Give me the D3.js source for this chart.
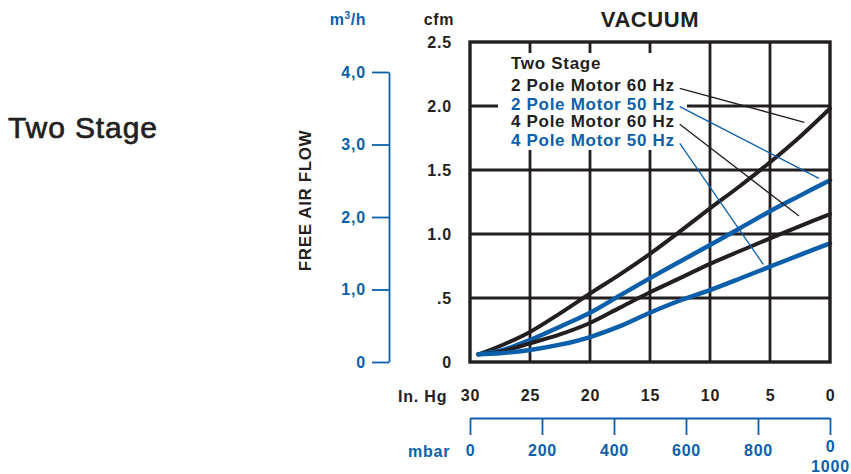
<!DOCTYPE html>
<html>
<head>
<meta charset="utf-8">
<script src="https://cdn.jsdelivr.net/npm/d3@7/dist/d3.min.js"></script>
<style>
  html, body { margin: 0; padding: 0; background: #fff; }
  svg { display: block; font-family: "Liberation Sans", Arial, Helvetica, sans-serif; }
</style>
</head>
<body>
<svg id="chart" width="851" height="474"></svg>
<script>
// ---------------- data ----------------
const vacuumInHg = [29.3, 27.5, 25, 22.5, 20, 17.5, 15, 12.5, 10, 7.5, 5, 2.5, 0];
const flow2Pole60 = [0.06, 0.125, 0.235, 0.38, 0.535, 0.685, 0.845, 1.02, 1.2, 1.375, 1.56, 1.76, 1.98];
const flow2Pole50 = [0.06, 0.088, 0.172, 0.276, 0.385, 0.52, 0.655, 0.785, 0.914, 1.045, 1.178, 1.3, 1.42];
const flow4Pole60 = [0.06, 0.08, 0.146, 0.216, 0.305, 0.425, 0.545, 0.655, 0.767, 0.867, 0.966, 1.062, 1.156];
const flow4Pole50 = [0.06, 0.068, 0.094, 0.135, 0.195, 0.28, 0.385, 0.48, 0.562, 0.652, 0.745, 0.837, 0.927];

const seriesNames = ["2 Pole Motor 60 Hz", "2 Pole Motor 50 Hz", "4 Pole Motor 60 Hz", "4 Pole Motor 50 Hz"];
// where each legend leader line touches its curve (In. Hg, cfm)
const leaderInHg = [2.14, 0.92, 2.58, 5.56];
const leaderCfm = [1.873, 1.435, 1.14, 0.763];

const inHgTicks = [30, 25, 20, 15, 10, 5, 0];
const cfmTicks = [0, 0.5, 1.0, 1.5, 2.0, 2.5];
const cfmTickLabels = ["0", ".5", "1.0", "1.5", "2.0", "2.5"];
const m3hTicks = [0, 1, 2, 3, 4];
const m3hTickLabels = ["0", "1,0", "2,0", "3,0", "4,0"];
const mbarTicks = [0, 200, 400, 600, 800, 1000];
const mbarTickLabels = ["0", "200", "400", "600", "800", "0|1000"];

// ---------------- styles ----------------
const BLACK = "#231f20";
const BLUE = "#0b5fab";
const seriesColors = [BLACK, BLUE, BLACK, BLUE];
const seriesData = [flow2Pole60, flow2Pole50, flow4Pole60, flow4Pole50];

const svg = d3.select("#chart");

const x = d3.scaleLinear().domain([30, 0]).range([470, 830]);
const y = d3.scaleLinear().domain([0, 2.5]).range([362, 42]);
const yM3h = d3.scaleLinear().domain([0, 4]).range([362, 72]);
const xMbar = d3.scaleLinear().domain([0, 1000]).range([470, 830]);

// ---- grid ----
const grid = svg.append("g").attr("stroke", BLACK).attr("stroke-width", 2.8);
grid.selectAll("line.v").data(inHgTicks.filter(d => d > 0 && d < 30)).join("line")
  .attr("x1", d => x(d)).attr("x2", d => x(d))
  .attr("y1", y(2.5)).attr("y2", y(0));
grid.selectAll("line.h").data(cfmTicks.filter(d => d > 0 && d < 2.5)).join("line")
  .attr("x1", x(30)).attr("x2", x(0))
  .attr("y1", d => y(d)).attr("y2", d => y(d));

// white panel behind legend
svg.append("rect")
  .attr("x", 498).attr("y", 53).attr("width", 189).attr("height", 97)
  .attr("fill", "#fff");

// ---- curves ----
const line = d3.line()
  .x((d, i) => x(vacuumInHg[i]))
  .y(d => y(d))
  .curve(d3.curveCatmullRom.alpha(0.5));

svg.append("g").selectAll("path").data(seriesData).join("path")
  .attr("d", d => line(d))
  .attr("fill", "none")
  .attr("stroke", (d, i) => seriesColors[i])
  .attr("stroke-width", (d, i) => i % 2 ? 4.4 : 4)
  .attr("stroke-linecap", "round");

// ---- frame ----
svg.append("rect")
  .attr("x", x(30)).attr("y", y(2.5))
  .attr("width", x(0) - x(30)).attr("height", y(0) - y(2.5))
  .attr("fill", "none").attr("stroke", BLACK).attr("stroke-width", 3.4);

// ---- legend ----
const legend = svg.append("g")
  .attr("font-weight", "bold").attr("font-size", 17).attr("letter-spacing", 0.7);
legend.append("text").attr("x", 511).attr("y", 68.7).attr("fill", BLACK).text("Two Stage");
const legendY = [91.3, 109.7, 127.3, 146.3];
const labels = legend.selectAll("text.s").data(seriesNames).join("text")
  .attr("class", "s")
  .attr("x", 511).attr("y", (d, i) => legendY[i])
  .attr("fill", (d, i) => seriesColors[i])
  .text(d => d);

labels.each(function(d, i) {
  const bb = this.getBBox();
  svg.append("line")
    .attr("x1", bb.x + bb.width + 5).attr("y1", legendY[i] - 3)
    .attr("x2", x(leaderInHg[i])).attr("y2", y(leaderCfm[i]))
    .attr("stroke", seriesColors[i]).attr("stroke-width", 1.3);
});

// ---- cfm axis (left of plot) ----
const cfmAxis = svg.append("g")
  .attr("transform", `translate(${x(30)},0)`)
  .call(d3.axisLeft(y).tickValues(cfmTicks).tickSize(0).tickPadding(18)
    .tickFormat((d, i) => cfmTickLabels[i]));
cfmAxis.select(".domain").remove();
cfmAxis.selectAll("text")
  .attr("font-size", 16).attr("font-weight", "bold").attr("letter-spacing", 0.8)
  .attr("fill", BLACK).attr("font-family", "Liberation Sans, Arial, sans-serif");

// ---- In. Hg axis ----
const hgAxis = svg.append("g")
  .attr("transform", `translate(0,${y(0)})`)
  .call(d3.axisBottom(x).tickValues(inHgTicks).tickSize(0).tickPadding(28));
hgAxis.select(".domain").remove();
hgAxis.selectAll("text")
  .attr("font-size", 16).attr("font-weight", "bold").attr("letter-spacing", 0.8)
  .attr("fill", BLACK).attr("font-family", "Liberation Sans, Arial, sans-serif");
svg.append("text").attr("x", 398).attr("y", 401.7)
  .attr("font-size", 16).attr("font-weight", "bold").attr("letter-spacing", 0.8)
  .attr("fill", BLACK).text("In. Hg");

// ---- m3/h axis ----
const m3Axis = svg.append("g")
  .attr("transform", "translate(389,0)")
  .call(d3.axisLeft(yM3h).tickValues(m3hTicks).tickSize(17).tickSizeOuter(0).tickPadding(6)
    .tickFormat((d, i) => m3hTickLabels[i]));
m3Axis.select(".domain").attr("stroke", BLUE).attr("stroke-width", 1.8);
m3Axis.selectAll(".tick line").attr("stroke", BLUE).attr("stroke-width", 1.8);
m3Axis.selectAll("text")
  .attr("font-size", 16).attr("font-weight", "bold").attr("letter-spacing", 0.8)
  .attr("fill", BLUE).attr("font-family", "Liberation Sans, Arial, sans-serif");

// ---- mbar axis ----
const mbarAxis = svg.append("g")
  .attr("transform", "translate(0,418)")
  .call(d3.axisBottom(xMbar).tickValues(mbarTicks).tickSize(17).tickSizeOuter(0).tickPadding(10)
    .tickFormat((d, i) => mbarTickLabels[i]));
mbarAxis.select(".domain").attr("stroke", BLUE).attr("stroke-width", 1.8);
mbarAxis.selectAll(".tick line").attr("stroke", BLUE).attr("stroke-width", 1.8);
mbarAxis.selectAll("text")
  .attr("font-size", 16).attr("font-weight", "bold").attr("letter-spacing", 0.8)
  .attr("fill", BLUE).attr("font-family", "Liberation Sans, Arial, sans-serif")
  .each(function(d, i) {
    const lbl = mbarTickLabels[i];
    if (lbl.includes("|")) {
      const parts = lbl.split("|");
      const t = d3.select(this).text(null).attr("dy", null).attr("y", 0);
      t.append("tspan").attr("x", 0).attr("y", 33.7).text(parts[0]);
      t.append("tspan").attr("x", 0).attr("y", 53.7).text(parts[1]);
    }
  });
svg.append("text").attr("x", 408).attr("y", 457)
  .attr("font-size", 16).attr("font-weight", "bold").attr("letter-spacing", 0.8)
  .attr("fill", BLUE).text("mbar");

// ---- titles ----
svg.append("text").attr("x", 650).attr("y", 27).attr("text-anchor", "middle")
  .attr("font-size", 22).attr("font-weight", "bold").attr("letter-spacing", 0.6)
  .attr("fill", BLACK).text("VACUUM");
svg.append("text").attr("x", 439).attr("y", 25).attr("text-anchor", "middle")
  .attr("font-size", 16).attr("font-weight", "bold").attr("letter-spacing", 0.6)
  .attr("fill", BLACK).text("cfm");
const m3 = svg.append("text").attr("x", 348).attr("y", 25).attr("text-anchor", "middle")
  .attr("font-size", 16).attr("font-weight", "bold").attr("letter-spacing", 0.6)
  .attr("fill", BLUE);
m3.append("tspan").text("m");
m3.append("tspan").attr("font-size", 10).attr("dy", -6).text("3");
m3.append("tspan").attr("dy", 6).text("/h");

svg.append("text")
  .attr("transform", "translate(311,200.5) rotate(-90)")
  .attr("text-anchor", "middle")
  .attr("font-size", 17).attr("font-weight", "bold").attr("letter-spacing", 0.6)
  .attr("fill", BLACK).text("FREE AIR FLOW");

svg.append("text").attr("x", 8).attr("y", 137.5)
  .attr("font-size", 30).attr("letter-spacing", 0.9)
  .attr("fill", BLACK).attr("stroke", BLACK).attr("stroke-width", 0.7)
  .text("Two Stage");
</script>
</body>
</html>
